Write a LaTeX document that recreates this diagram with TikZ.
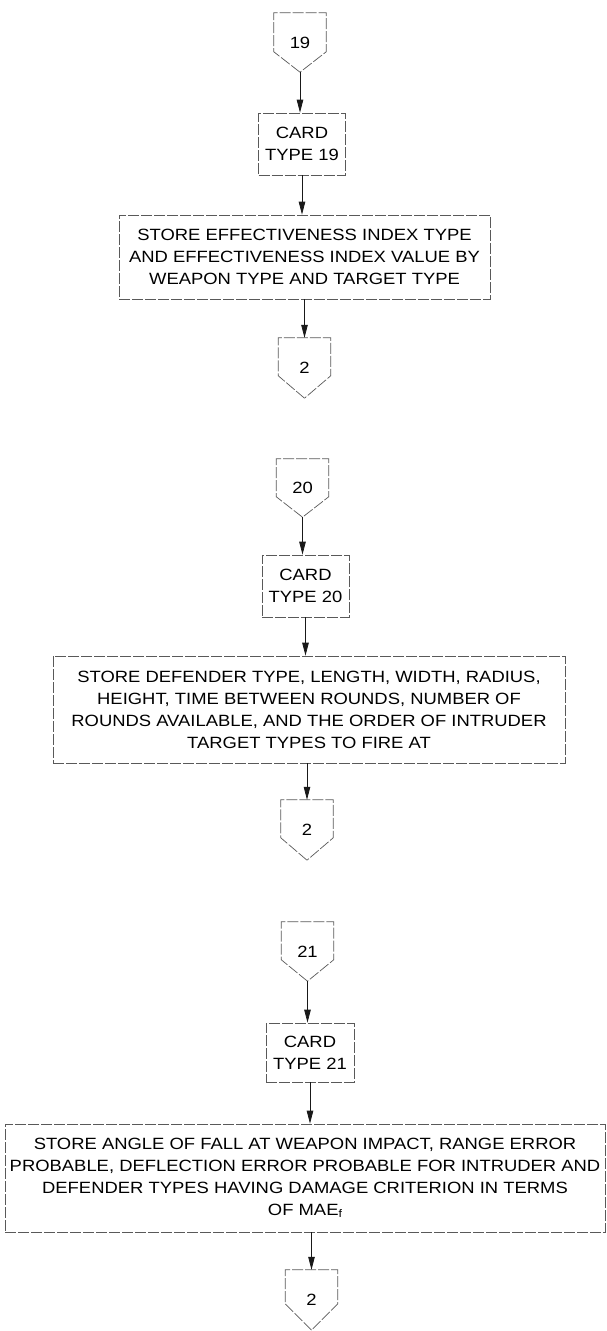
\documentclass[tikz,border=0pt]{standalone}
\usepackage{fontspec}
\setmainfont{Liberation Sans}[FakeStretch=1.13]
\usetikzlibrary{arrows.meta,calc}
\tikzset{
  boxline/.style={draw=black!65, line width=0.7pt, dash pattern=on 11pt off 2pt},
  txt/.style={font={\fontsize{16.3}{22}\selectfont}, text=black, align=center, inner sep=0pt},
  procbox/.style={rectangle, boxline, txt},
  offnode/.style={rectangle, txt, minimum width=52, draw=none},
  flow/.style={draw=black!90, line width=0.8pt, -{Triangle[length=13pt,width=6.5pt]}}
}
\newcommand{\offpg}[5]{% name, cx, top, sidebottom, tip ; label given after
  \pgfmathsetmacro\offh{#5-#3}%
  \pgfmathsetmacro\offs{#4-#3}%
  \pgfmathsetmacro\offc{(#3+#5)/2}%
  \offpgnode{#1}{#2}%
}
\newcommand{\offpgnode}[3]{%
  \node[offnode, minimum height=\offh] (#1) at (#2,\offc) {#3};
  \draw[boxline] (#1.south) -- ($(#1.north west)+(0,\offs)$) -- (#1.north west) -- (#1.north east) -- ($(#1.north east)+(0,\offs)$) -- cycle;
}
\begin{document}
\begin{tikzpicture}[x=1pt,y=-1pt]
\useasboundingbox (0,0) rectangle (607,1331);

% ---- chain 19 ----
\offpg{c19}{300}{13}{52}{72}{19}
\node[procbox, minimum width=87, minimum height=62] (card19) at (302,144) {CARD\\TYPE 19};
\node[procbox, minimum width=371, minimum height=84] (store19) at (304.5,257) {STORE EFFECTIVENESS INDEX TYPE\\AND EFFECTIVENESS INDEX VALUE BY\\WEAPON TYPE AND TARGET TYPE};
\offpg{c2a}{304.5}{338}{376}{398}{2}

\draw[flow] (c19.south) -- (c19.south |- card19.north);
\draw[flow] (card19.south) -- (card19.south |- store19.north);
\draw[flow] (store19.south -| c2a.north) -- (c2a.north);

% ---- chain 20 ----
\offpg{c20}{302.5}{459}{497}{517}{20}
\node[procbox, minimum width=87, minimum height=62] (card20) at (305.5,586) {CARD\\TYPE 20};
\node[procbox, minimum width=512, minimum height=107] (store20) at (309,709.5) {STORE DEFENDER TYPE, LENGTH, WIDTH, RADIUS,\\HEIGHT, TIME BETWEEN ROUNDS, NUMBER OF\\ROUNDS AVAILABLE, AND THE ORDER OF INTRUDER\\TARGET TYPES TO FIRE AT};
\offpg{c2b}{307}{800}{838}{860}{2}

\draw[flow] (c20.south) -- (c20.south |- card20.north);
\draw[flow] (card20.south) -- (card20.south |- store20.north);
\draw[flow] (store20.south -| c2b.north) -- (c2b.north);

% ---- chain 21 ----
\offpg{c21}{307.5}{922}{960}{981}{21}
\node[procbox, minimum width=88, minimum height=59] (card21) at (310,1052.5) {CARD\\TYPE 21};
\node[procbox, minimum width=600, minimum height=108] (store21) at (305,1178) {STORE ANGLE OF FALL AT WEAPON IMPACT, RANGE ERROR\\PROBABLE, DEFLECTION ERROR PROBABLE FOR INTRUDER AND\\DEFENDER TYPES HAVING DAMAGE CRITERION IN TERMS\\OF MAE{\fontsize{11}{11}\selectfont\raisebox{-2pt}{f}}};
\offpg{c2c}{311.5}{1270}{1304}{1330}{2}

\draw[flow] (c21.south) -- (c21.south |- card21.north);
\draw[flow] (card21.south) -- (card21.south |- store21.north);
\draw[flow] (store21.south -| c2c.north) -- (c2c.north);
\end{tikzpicture}
\end{document}
